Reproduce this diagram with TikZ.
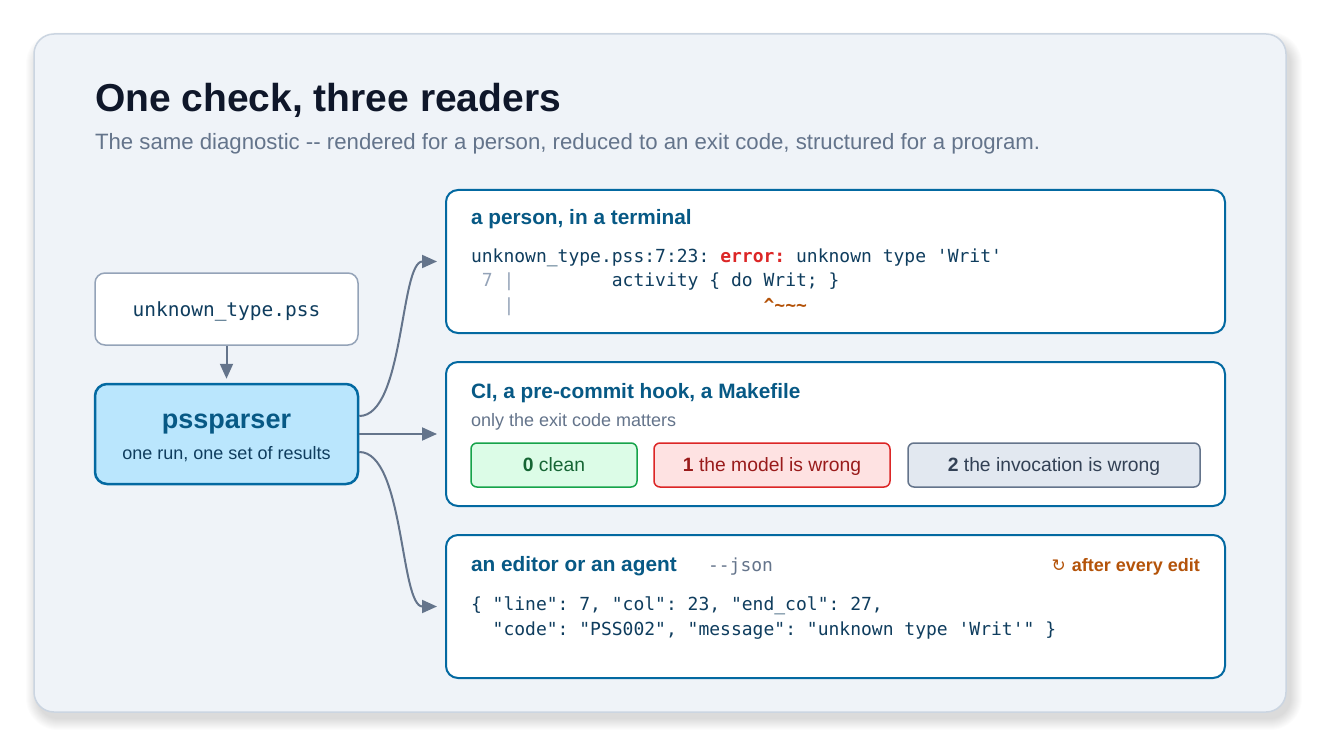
\documentclass[tikz,border=0pt]{standalone}
\usepackage{fontspec}
\setmainfont{Liberation Sans}
\setmonofont{DejaVu Sans Mono}
\newfontfamily\symfont{DejaVu Sans}
\usetikzlibrary{arrows.meta,calc}
\frenchspacing
\definecolor{panelfill}{HTML}{EFF3F8}
\definecolor{panelline}{HTML}{CBD5E1}
\definecolor{titlec}{HTML}{0F172A}
\definecolor{subc}{HTML}{64748B}
\definecolor{cardline}{HTML}{0369A1}
\definecolor{cardtitle}{HTML}{075985}
\definecolor{codec}{HTML}{0F3D5E}
\definecolor{gutc}{HTML}{94A3B8}
\definecolor{errc}{HTML}{DC2626}
\definecolor{caretc}{HTML}{B45309}
\definecolor{arrowc}{HTML}{64748B}
\definecolor{pssfill}{HTML}{BAE6FD}
\definecolor{filel}{HTML}{94A3B8}
\definecolor{gfill}{HTML}{DCFCE7}
\definecolor{gline}{HTML}{16A34A}
\definecolor{gtext}{HTML}{166534}
\definecolor{rfill}{HTML}{FEE2E2}
\definecolor{rline}{HTML}{DC2626}
\definecolor{rtext}{HTML}{991B1B}
\definecolor{sfill}{HTML}{E2E8F0}
\definecolor{sline}{HTML}{64748B}
\definecolor{stext}{HTML}{334155}
\newcommand{\setfs}[1]{\fontsize{#1}{#1}\selectfont}
\begin{document}
\begin{tikzpicture}[x=1pt,y=-1pt,
  txt/.style={inner sep=0pt, outer sep=0pt},
  card/.style={draw=cardline, line width=2pt, fill=white, rounded corners=12pt, minimum width=779pt, inner sep=0pt},
  cardhead/.style={txt, anchor=base west, font=\setfs{20.8}\bfseries, text=cardtitle},
  code/.style={txt, anchor=base west, font=\setfs{18}\ttfamily, text=codec},
  codebox/.style={rounded corners=6pt, line width=1.5pt, minimum height=44pt, inner sep=0pt, text height=15pt, text depth=2pt, font=\setfs{19.3}},
  conn/.style={draw=arrowc, line width=2pt, -{Triangle[length=15pt,width=13pt]}}
]
\useasboundingbox (0,0) rectangle (1320,746);
\fill[white] (0,0) rectangle (1320,746);
% shadow
\foreach \r in {1,...,12}{
  \fill[black, opacity=0.012, rounded corners={20pt+\r pt}] (38-\r,44-\r) rectangle (1290+\r,718+\r);
}
% panel
\node[draw=panelline, line width=1.5pt, fill=panelfill, rounded corners=20pt, minimum width=1252pt, minimum height=678pt, inner sep=0pt] (panel) at (660,373) {};
% title
\node[txt, anchor=base west, font=\setfs{39}\bfseries, text=titlec] (title) at (95,112) {One check, three readers};
\node[txt, anchor=base west, font=\setfs{22.2}, text=subc] (subtitle) at (95,150) {The same diagnostic -{}- rendered for a person, reduced to an exit code, structured for a program.};
% file node
\node[draw=filel, line width=1.5pt, fill=white, rounded corners=10pt, minimum width=263pt, minimum height=72pt, inner sep=0pt, font=\setfs{19.5}\ttfamily, text=codec, text height=16pt, text depth=2pt] (file) at (226.5,309) {unknown\_type.pss};
% pssparser
\node[draw=cardline, line width=2.5pt, fill=pssfill, rounded corners=12pt, minimum width=263pt, minimum height=100pt, inner sep=0pt] (pss) at (226.5,434) {};
\node[txt, anchor=base, font=\setfs{27}\bfseries, text=cardtitle] (psst) at (226.5,428) {pssparser};
\node[txt, anchor=base, font=\setfs{18}, text=codec] (pssd) at (226.5,459) {one run, one set of results};
\draw[conn, shorten >=4pt] (file.south) -- (pss.north);
% card 1
\node[card, minimum height=143pt] (card1) at (835.5,261.5) {};
\node[cardhead] (c1h) at (471,225) {a person, in a terminal};
\node[code] (c1l1) at (471,262) {unknown\_type.pss:7:23: {\bfseries\color{errc}error:} unknown type \textquotesingle Writ\textquotesingle};
\node[code] (c1l2) at (471,287) {{\color{gutc}~7~|}~~~~~~~~~activity~\{~do~Writ;~\}};
\node[code] (c1l3) at (471,311) {{\color{gutc}~~~|}~~~~~~~~~~~~~~~~~~~~~~~{\bfseries\color{caretc}\textasciicircum\textasciitilde\textasciitilde\textasciitilde}};
% card 2
\node[card, minimum height=144pt] (card2) at (835.5,434) {};
\node[cardhead] (c2h) at (471,398) {CI, a pre-commit hook, a Makefile};
\node[txt, anchor=base west, font=\setfs{18}, text=subc] (c2s) at (471,426) {only the exit code matters};
\node[codebox, draw=gline, fill=gfill, text=gtext, minimum width=166pt] (b0) at (554,465) {\textbf{0} clean};
\node[codebox, draw=rline, fill=rfill, text=rtext, minimum width=236pt] (b1) at (772,465) {\textbf{1} the model is wrong};
\node[codebox, draw=sline, fill=sfill, text=stext, minimum width=292pt] (b2) at (1054,465) {\textbf{2} the invocation is wrong};
% card 3
\node[card, minimum height=143pt] (card3) at (835.5,606.5) {};
\node[cardhead] (c3h) at (471,571) {an editor or an agent};
\node[txt, anchor=base west, font=\setfs{18}\ttfamily, text=subc] (c3j) at (708,571) {-{}-json};
\node[txt, anchor=base east, font=\setfs{18}, text=caretc] (c3e) at (1200,571) {{\symfont\setfs{17}↻}\hspace{6pt}\textbf{after every edit}};
\node[code] (c3l1) at (471,610) {\{ "line": 7, "col": 23, "end\_col": 27,};
\node[code] (c3l2) at (471,635) {~~"code": "PSS002", "message": "unknown type \textquotesingle Writ\textquotesingle" \}};
% connectors
\draw[conn, shorten >=8pt] ($(pss.east)+(0,-18)$) .. controls +(45,0) and +(-45,0) .. (card1.west);
\draw[conn, shorten >=8pt] (pss.east) -- (card2.west);
\draw[conn, shorten >=8pt] ($(pss.east)+(0,18)$) .. controls +(45,0) and +(-45,0) .. (card3.west);
\end{tikzpicture}
\end{document}
